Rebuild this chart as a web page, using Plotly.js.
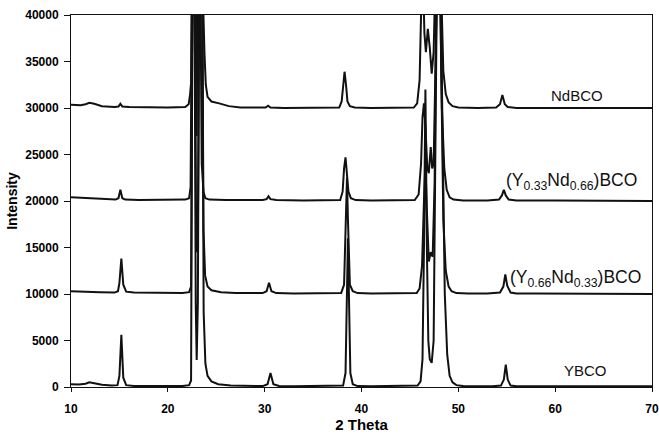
<!DOCTYPE html>
<html>
<head>
<meta charset="utf-8">
<script src="https://cdn.plot.ly/plotly-3.0.1.min.js"></script>
<style>html,body{margin:0;padding:0;background:#fff;}#chart{width:659px;height:437px;}</style>
</head>
<body>
<div id="chart"></div>
<script>
// [2θ, intensity]
const ybcoPts = [[10,300],[10.8,280],[11.5,350],[11.9,500],[12.4,400],[13.2,250],[14.2,150],[14.8,200],[15.0,1200],[15.2,5600],[15.4,1000],[15.7,200],[16.5,120],[18,100],[20,100],[21.5,100],[22.2,200],[22.4,700],[22.55,45000],[22.75,45000],[22.88,9000],[22.98,2900],[23.1,9000],[23.25,45000],[23.55,45000],[23.7,8000],[23.88,2500],[24.1,1200],[24.5,600],[25.2,300],[26.5,150],[28,100],[29.8,100],[30.3,300],[30.6,1500],[30.9,300],[31.5,100],[33,80],[35,80],[37,80],[38.1,150],[38.35,1500],[38.5,10000],[38.6,16000],[38.7,10000],[38.85,1500],[39.1,300],[39.6,100],[41,80],[43,80],[45,80],[45.8,150],[46.1,600],[46.3,3000],[46.45,15000],[46.6,32000],[46.75,15000],[46.9,5000],[47.05,3000],[47.25,2600],[47.45,5000],[47.6,20000],[47.8,45000],[48.1,48000],[48.35,30000],[48.6,10000],[48.85,3500],[49.1,1200],[49.4,500],[49.8,200],[50.5,100],[52,80],[53.5,80],[54.4,150],[54.7,800],[54.9,2400],[55.1,800],[55.4,150],[56,80],[58,80],[60,80],[62,80],[64,80],[66,80],[68,80],[70,80]];
const y66Pts = [[10,10300],[11,10280],[12,10300],[13,10200],[14.5,10150],[14.85,10300],[15.0,11200],[15.2,13800],[15.4,11000],[15.7,10250],[16.5,10150],[18,10150],[20,10100],[21.5,10100],[22.2,10200],[22.4,10800],[22.55,45000],[22.8,45000],[22.92,16000],[23.02,14500],[23.12,20000],[23.25,45000],[23.55,45000],[23.68,17000],[23.85,12000],[24.1,10800],[24.5,10400],[25.5,10200],[27,10100],[29.8,10100],[30.2,10300],[30.45,11200],[30.7,10300],[31.2,10100],[33,10050],[36,10050],[37.9,10100],[38.2,11000],[38.4,18000],[38.5,22500],[38.6,18000],[38.8,11000],[39.1,10300],[39.6,10100],[41,10050],[44,10050],[45.7,10100],[46.0,10600],[46.25,13000],[46.45,20000],[46.6,24000],[46.75,19000],[46.95,13500],[47.15,14500],[47.35,14000],[47.55,22000],[47.75,45000],[48.05,48000],[48.2,35000],[48.45,18000],[48.7,12500],[49.0,10800],[49.3,10300],[49.8,10100],[51,10050],[53,10050],[54.3,10150],[54.65,10800],[54.85,12100],[55.05,10900],[55.4,10150],[56,10050],[58,10050],[62,10050],[66,10050],[70,10000]];
const y33Pts = [[10,20400],[11,20350],[12,20300],[13,20200],[14.6,20150],[14.9,20300],[15.1,21200],[15.3,20300],[15.6,20150],[17,20100],[20,20100],[21.8,20150],[22.2,20300],[22.35,21500],[22.5,45000],[22.75,45000],[22.88,28000],[22.98,27000],[23.08,45000],[23.35,45000],[23.5,24000],[23.68,21000],[23.88,20300],[24.3,20150],[26,20100],[29.8,20100],[30.2,20200],[30.4,20500],[30.6,20200],[31.2,20100],[34,20050],[37,20050],[37.8,20100],[38.05,21000],[38.2,23500],[38.35,24700],[38.5,23000],[38.65,21000],[38.9,20300],[39.4,20100],[41,20050],[44,20050],[45.5,20100],[45.9,20700],[46.15,24000],[46.3,29000],[46.45,30500],[46.6,28000],[46.8,23500],[46.95,23000],[47.15,25800],[47.3,23500],[47.45,24000],[47.65,35000],[47.85,45000],[48.1,45000],[48.3,30000],[48.55,23500],[48.8,21200],[49.1,20400],[49.5,20150],[50.5,20050],[53,20050],[54.2,20150],[54.5,20600],[54.7,21200],[54.9,20600],[55.2,20150],[56,20050],[60,20050],[65,20050],[70,20000]];
const ndPts = [[10,30350],[11,30300],[11.5,30400],[11.9,30550],[12.4,30450],[13.2,30200],[14.5,30100],[14.9,30150],[15.1,30450],[15.3,30150],[16,30100],[18,30050],[20,30050],[21.8,30100],[22.15,30400],[22.3,31500],[22.4,32700],[22.5,45000],[22.7,45000],[22.82,34500],[22.92,36000],[23.02,45000],[23.55,45000],[23.78,36000],[23.92,32500],[24.1,31200],[24.5,30700],[25.3,30500],[26.3,30200],[27.5,30050],[30.1,30050],[30.35,30250],[30.6,30050],[32,30000],[36,30000],[37.7,30050],[37.95,30700],[38.1,32500],[38.25,33900],[38.4,32500],[38.55,30700],[38.8,30200],[39.3,30050],[41,30000],[44,30000],[45.4,30050],[45.75,30500],[46.0,33000],[46.15,40000],[46.3,46000],[46.5,38000],[46.65,36000],[46.85,38500],[47.05,36500],[47.25,33700],[47.45,36000],[47.65,45000],[47.95,48000],[48.25,42000],[48.45,34000],[48.7,31500],[49.0,30600],[49.4,30200],[50,30050],[52,30000],[53.9,30050],[54.3,30400],[54.55,31400],[54.8,30400],[55.1,30100],[56,30000],[60,30000],[65,30000],[70,30000]];

const sampleNames = ['YBCO', '(Y<sub>0.66</sub>Nd<sub>0.33</sub>)BCO', '(Y<sub>0.33</sub>Nd<sub>0.66</sub>)BCO', 'NdBCO'];
const labelX = [63.1, 55.1, 54.7, 62.3];
const labelY = [1750, 11700, 22100, 31300];
const xTicks = [10, 20, 30, 40, 50, 60, 70];
const yTicks = [0, 5000, 10000, 15000, 20000, 25000, 30000, 35000, 40000];

const seriesList = [ybcoPts, y66Pts, y33Pts, ndPts];
const traces = seriesList.map((pts, i) => ({
  type: 'scatter', mode: 'lines',
  x: pts.map(p => p[0]), y: pts.map(p => p[1]),
  name: sampleNames[i],
  line: {color: '#111', width: 2},
  hoverinfo: 'skip'
}));

const annotations = sampleNames.map((t, i) => ({
  x: labelX[i], y: labelY[i], xref: 'x', yref: 'y',
  text: t, showarrow: false,
  xanchor: (i === 1 || i === 2) ? 'left' : 'center', yanchor: 'middle',
  font: {family: 'Liberation Sans, Arial, sans-serif', size: (i === 1 || i === 2) ? 17.5 : 15, color: '#111'}
}));

const axisFont = {family: 'Liberation Sans, Arial, sans-serif', size: 12, color: '#000', weight: 700};
const layout = {
  width: 659, height: 437,
  margin: {l: 71, r: 7, t: 15, b: 50},
  paper_bgcolor: '#fff', plot_bgcolor: '#fff',
  showlegend: false,
  font: {family: 'Liberation Sans, Arial, sans-serif', color: '#111'},
  xaxis: {
    range: [10, 70], tickvals: xTicks, ticktext: xTicks.map(v => '<b>' + v + '</b>'),
    showgrid: false, zeroline: false, showline: true, mirror: true,
    linecolor: '#111', linewidth: 1, ticks: 'outside', ticklen: 4, tickcolor: '#111',
    tickfont: axisFont, ticklabelstandoff: 7,
    title: {text: '<b>2 Theta</b>', font: {family: 'Liberation Sans, Arial, sans-serif', size: 15, color: '#000'}, standoff: 2}
  },
  yaxis: {
    range: [0, 40000], tickvals: yTicks, ticktext: yTicks.map(v => '<b>' + v + '</b>'),
    showgrid: false, zeroline: false, showline: true, mirror: true,
    linecolor: '#111', linewidth: 1, ticks: 'outside', ticklen: 6, tickcolor: '#111',
    tickfont: axisFont, ticklabelstandoff: 3,
    title: {text: '<b>Intensity</b>', font: {family: 'Liberation Sans, Arial, sans-serif', size: 14, color: '#000'}, standoff: 4}
  },
  annotations: annotations
};

Plotly.newPlot('chart', traces, layout, {staticPlot: true, displayModeBar: false});
</script>
</body>
</html>
